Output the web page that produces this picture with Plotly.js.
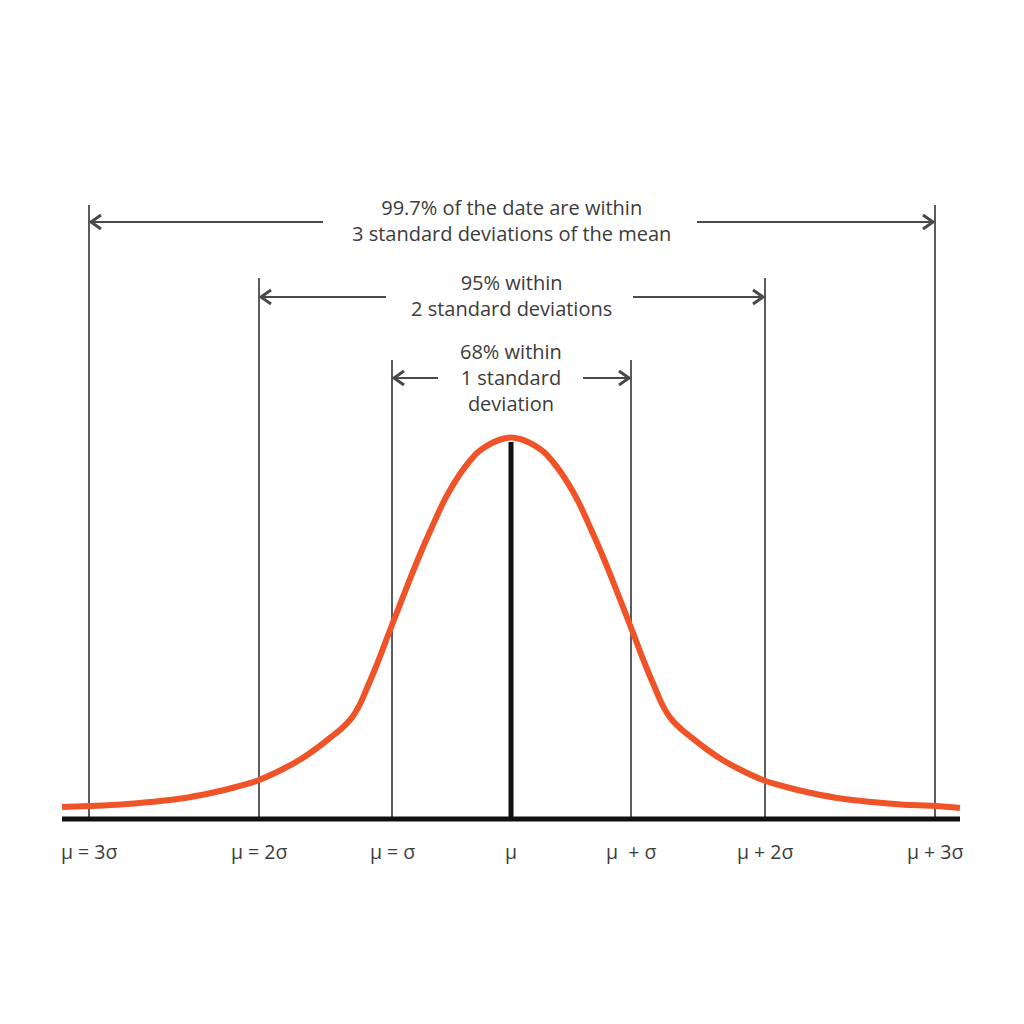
<!DOCTYPE html>
<html>
<head>
<meta charset="utf-8">
<script src="https://cdn.plot.ly/plotly-3.0.1.min.js"></script>
<style>
  html, body { margin: 0; padding: 0; background: #ffffff; }
  #chart { width: 1024px; height: 1024px; }
</style>
</head>
<body>
<div id="chart"></div>
<script>
// ---- data (x measured from the mean, curve height above the baseline) ----
const tickPositions = [-422, -252, -119, 0, 120, 254, 424];
const tickLabels = ['μ = 3σ', 'μ = 2σ', 'μ = σ', 'μ', 'μ\u00a0 + σ', 'μ + 2σ', 'μ + 3σ'];

const curveX = [-449, -422, -390, -361, -330, -300, -275, -252, -228, -210, -194, -178, -170, -161, -156, -150, -144, -137, -130, -124,
                -112, -101, -90, -79, -68, -61, -51, -42, -34, -26, -18, -9, 0,
                9, 18, 26, 34, 42, 51, 61, 68, 79, 90, 101, 112,
                124, 130, 137, 144, 150, 156, 161, 170, 178, 194, 210, 228, 252, 275, 300, 330, 361, 390, 424, 449];
const curveY = [12, 13, 14.5, 17, 20.5, 26, 32, 39, 50, 60, 71, 83.5, 90, 99, 106, 117, 131, 147.5, 165, 181,
                212, 240, 267, 292, 316, 329, 345, 357, 366, 372, 376.5, 380, 381.5,
                380, 376.5, 372, 366, 357, 345, 329, 316, 292, 267, 240, 212,
                181, 165, 147.5, 131, 117, 106, 99, 90, 83.5, 71, 60, 50, 39, 32, 26, 20.5, 17, 14.5, 13, 11];

const rangeLabels = [
  '99.7% of the date are within<br>3 standard deviations of the mean',
  '95% within<br>2 standard deviations',
  '68% within<br>1 standard<br>deviation'
];
const rangeSigmas = [3, 2, 1];   // how many sigmas each bracket spans

// ---- layout constants (pixels == data units) ----
const meanIdx = 3;
const lineTop = {3: 614, 2: 541, 1: 459};
const arrowY = {3: 597, 2: 522, 1: 441};
const gapHalf = {3: [188, 186], 2: [125, 122], 1: [73, 72]};
const textY = {3: 599, 2: 524, 1: 442};

const gray = '#4a4a4a';
const textColor = '#3c3c3c';
const fontFam = '"Open Sans", Lato, sans-serif';

const traces = [{
  type: 'scatter', mode: 'lines', x: curveX, y: curveY,
  line: {color: '#EF5327', width: 6, shape: 'spline', smoothing: 1},
  cliponaxis: false, hoverinfo: 'skip', showlegend: false
}];

const shapes = [];
const annotations = [];

// vertical guide lines
tickPositions.forEach((p, i) => {
  const k = Math.abs(i - meanIdx);
  if (k === 0) {
    shapes.push({type: 'line', xref: 'x', yref: 'y', x0: p, x1: p, y0: 0, y1: 377,
      line: {color: '#111111', width: 5}, layer: 'below'});
  } else {
    shapes.push({type: 'line', xref: 'x', yref: 'y', x0: p, x1: p, y0: 0, y1: lineTop[k],
      line: {color: gray, width: 1.8}, layer: 'below'});
  }
});

// baseline
shapes.push({type: 'line', xref: 'x', yref: 'y', x0: curveX[0], x1: curveX[curveX.length - 1], y0: 0, y1: 0,
  line: {color: '#111111', width: 5}});

// brackets with arrows
rangeSigmas.forEach((k, r) => {
  const xl = tickPositions[meanIdx - k];
  const xr = tickPositions[meanIdx + k];
  const y = arrowY[k];
  const mid = tickPositions[meanIdx];
  shapes.push({type: 'line', xref: 'x', yref: 'y', x0: xl, x1: mid - gapHalf[k][0], y0: y, y1: y,
    line: {color: gray, width: 1.8}});
  shapes.push({type: 'line', xref: 'x', yref: 'y', x0: mid + gapHalf[k][1], x1: xr, y0: y, y1: y,
    line: {color: gray, width: 1.8}});
  // chevrons
  shapes.push({type: 'path', xref: 'x', yref: 'y',
    path: `M ${xl + 12},${y + 7} L ${xl + 2},${y} L ${xl + 12},${y - 7}`,
    line: {color: gray, width: 3}});
  shapes.push({type: 'path', xref: 'x', yref: 'y',
    path: `M ${xr - 12},${y + 7} L ${xr - 2},${y} L ${xr - 12},${y - 7}`,
    line: {color: gray, width: 3}});
  annotations.push({xref: 'x', yref: 'y', x: mid, y: textY[k], text: rangeLabels[r], showarrow: false,
    xanchor: 'center', yanchor: 'middle', align: 'center',
    font: {family: fontFam, size: 20, color: textColor}});
});

// tick labels
tickPositions.forEach((p, i) => {
  annotations.push({xref: 'x', yref: 'y', x: p, y: -32, text: tickLabels[i], showarrow: false,
    xanchor: 'center', yanchor: 'middle',
    font: {family: fontFam, size: 19.5, color: textColor}});
});

const layout = {
  width: 1024, height: 1024,
  margin: {l: 0, r: 0, t: 0, b: 0},
  paper_bgcolor: '#ffffff', plot_bgcolor: '#ffffff',
  xaxis: {range: [-511, 513], visible: false, fixedrange: true},
  yaxis: {range: [-205, 819], visible: false, fixedrange: true},
  shapes: shapes,
  annotations: annotations,
  showlegend: false
};

Plotly.newPlot('chart', traces, layout, {displayModeBar: false, staticPlot: true});
</script>
</body>
</html>
